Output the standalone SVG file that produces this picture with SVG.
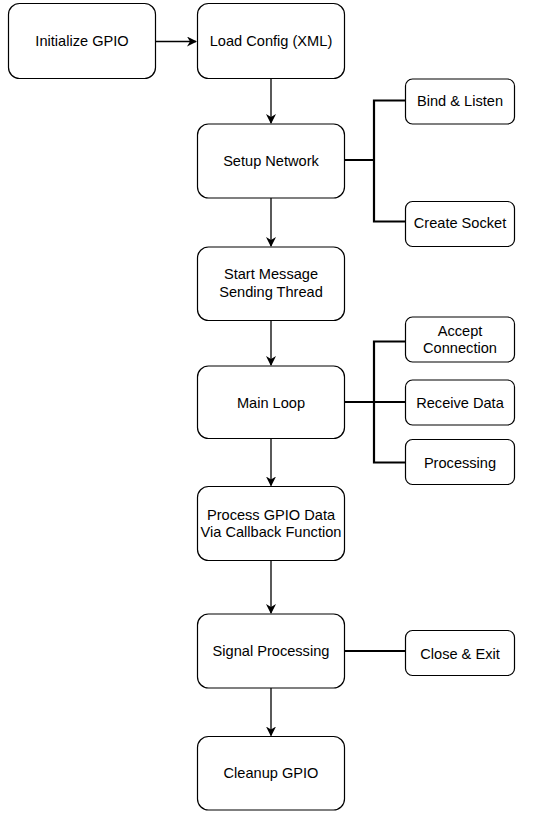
<svg xmlns="http://www.w3.org/2000/svg" width="533" height="815" viewBox="0 0 533 815">
<style>
.n{fill:#fff;stroke:#000;stroke-width:1.2}
.t{font-family:"Liberation Sans",Arial,sans-serif;font-size:14.6px;fill:#000;text-anchor:middle;dominant-baseline:central}
.e{fill:none;stroke:#000;stroke-width:1.3}
.b{fill:none;stroke:#000;stroke-width:2.2}
</style>
<defs>
<marker id="a" viewBox="0 0 10 10" refX="9" refY="5" markerWidth="10" markerHeight="10" markerUnits="userSpaceOnUse" orient="auto">
<path d="M0,0 L10,5 L0,10 L3,5 Z" fill="#000"/>
</marker>
</defs>
<rect width="533" height="815" fill="#fff"/>
<g id="connectors">
<path class="e" d="M155.5,41.5 H196" marker-end="url(#a)"/>
<path class="e" d="M271,78.5 V123" marker-end="url(#a)"/>
<path class="e" d="M271,198 V246" marker-end="url(#a)"/>
<path class="e" d="M271,320.5 V365" marker-end="url(#a)"/>
<path class="e" d="M271,438.5 V485.5" marker-end="url(#a)"/>
<path class="e" d="M271,561 V613" marker-end="url(#a)"/>
<path class="e" d="M271,688 V735.5" marker-end="url(#a)"/>
<path class="b" d="M344.5,160 H374 M374,99.5 V222.5 M374,100.5 H405.5 M374,221.5 H405.5"/>
<path class="b" d="M344.5,402 H405.5 M374,340.5 V463.5 M374,341.5 H405.5 M374,462.5 H405.5"/>
<path class="b" d="M344.5,651 H405.5"/>
</g>
<g id="init"><rect class="n" x="8.5" y="3.5" width="147" height="75" rx="11"/><text class="t" x="82" y="41">Initialize GPIO</text></g>
<g id="load"><rect class="n" x="197.5" y="3.5" width="147" height="75" rx="11"/><text class="t" x="271" y="41">Load Config (XML)</text></g>
<g id="setup"><rect class="n" x="197.5" y="124" width="147" height="74" rx="11"/><text class="t" x="271" y="161">Setup Network</text></g>
<g id="thread"><rect class="n" x="197.5" y="247" width="147" height="73.5" rx="11"/><text class="t" x="271" y="274">Start Message</text><text class="t" x="271" y="292">Sending Thread</text></g>
<g id="main"><rect class="n" x="197.5" y="366" width="147" height="72.5" rx="11"/><text class="t" x="271" y="403">Main Loop</text></g>
<g id="process"><rect class="n" x="197.5" y="486.5" width="147" height="74" rx="11"/><text class="t" x="271" y="515">Process GPIO Data</text><text class="t" x="271" y="532">Via Callback Function</text></g>
<g id="signal"><rect class="n" x="197.5" y="614" width="147" height="74" rx="11"/><text class="t" x="271" y="651">Signal Processing</text></g>
<g id="cleanup"><rect class="n" x="197.5" y="736.5" width="147" height="73.5" rx="11"/><text class="t" x="271" y="773">Cleanup GPIO</text></g>
<g id="bind"><rect class="n" x="405.5" y="79" width="109" height="45" rx="7"/><text class="t" x="460" y="101">Bind &amp; Listen</text></g>
<g id="socket"><rect class="n" x="405.5" y="201.5" width="109" height="45" rx="7"/><text class="t" x="460" y="223">Create Socket</text></g>
<g id="accept"><rect class="n" x="405.5" y="317" width="109" height="45" rx="7"/><text class="t" x="460" y="331">Accept</text><text class="t" x="460" y="348">Connection</text></g>
<g id="receive"><rect class="n" x="405.5" y="380" width="109" height="45" rx="7"/><text class="t" x="460" y="403">Receive Data</text></g>
<g id="processing"><rect class="n" x="405.5" y="439.5" width="109" height="45" rx="7"/><text class="t" x="460" y="463">Processing</text></g>
<g id="close"><rect class="n" x="405.5" y="630.5" width="109" height="45" rx="7"/><text class="t" x="460" y="654">Close &amp; Exit</text></g>
</svg>
